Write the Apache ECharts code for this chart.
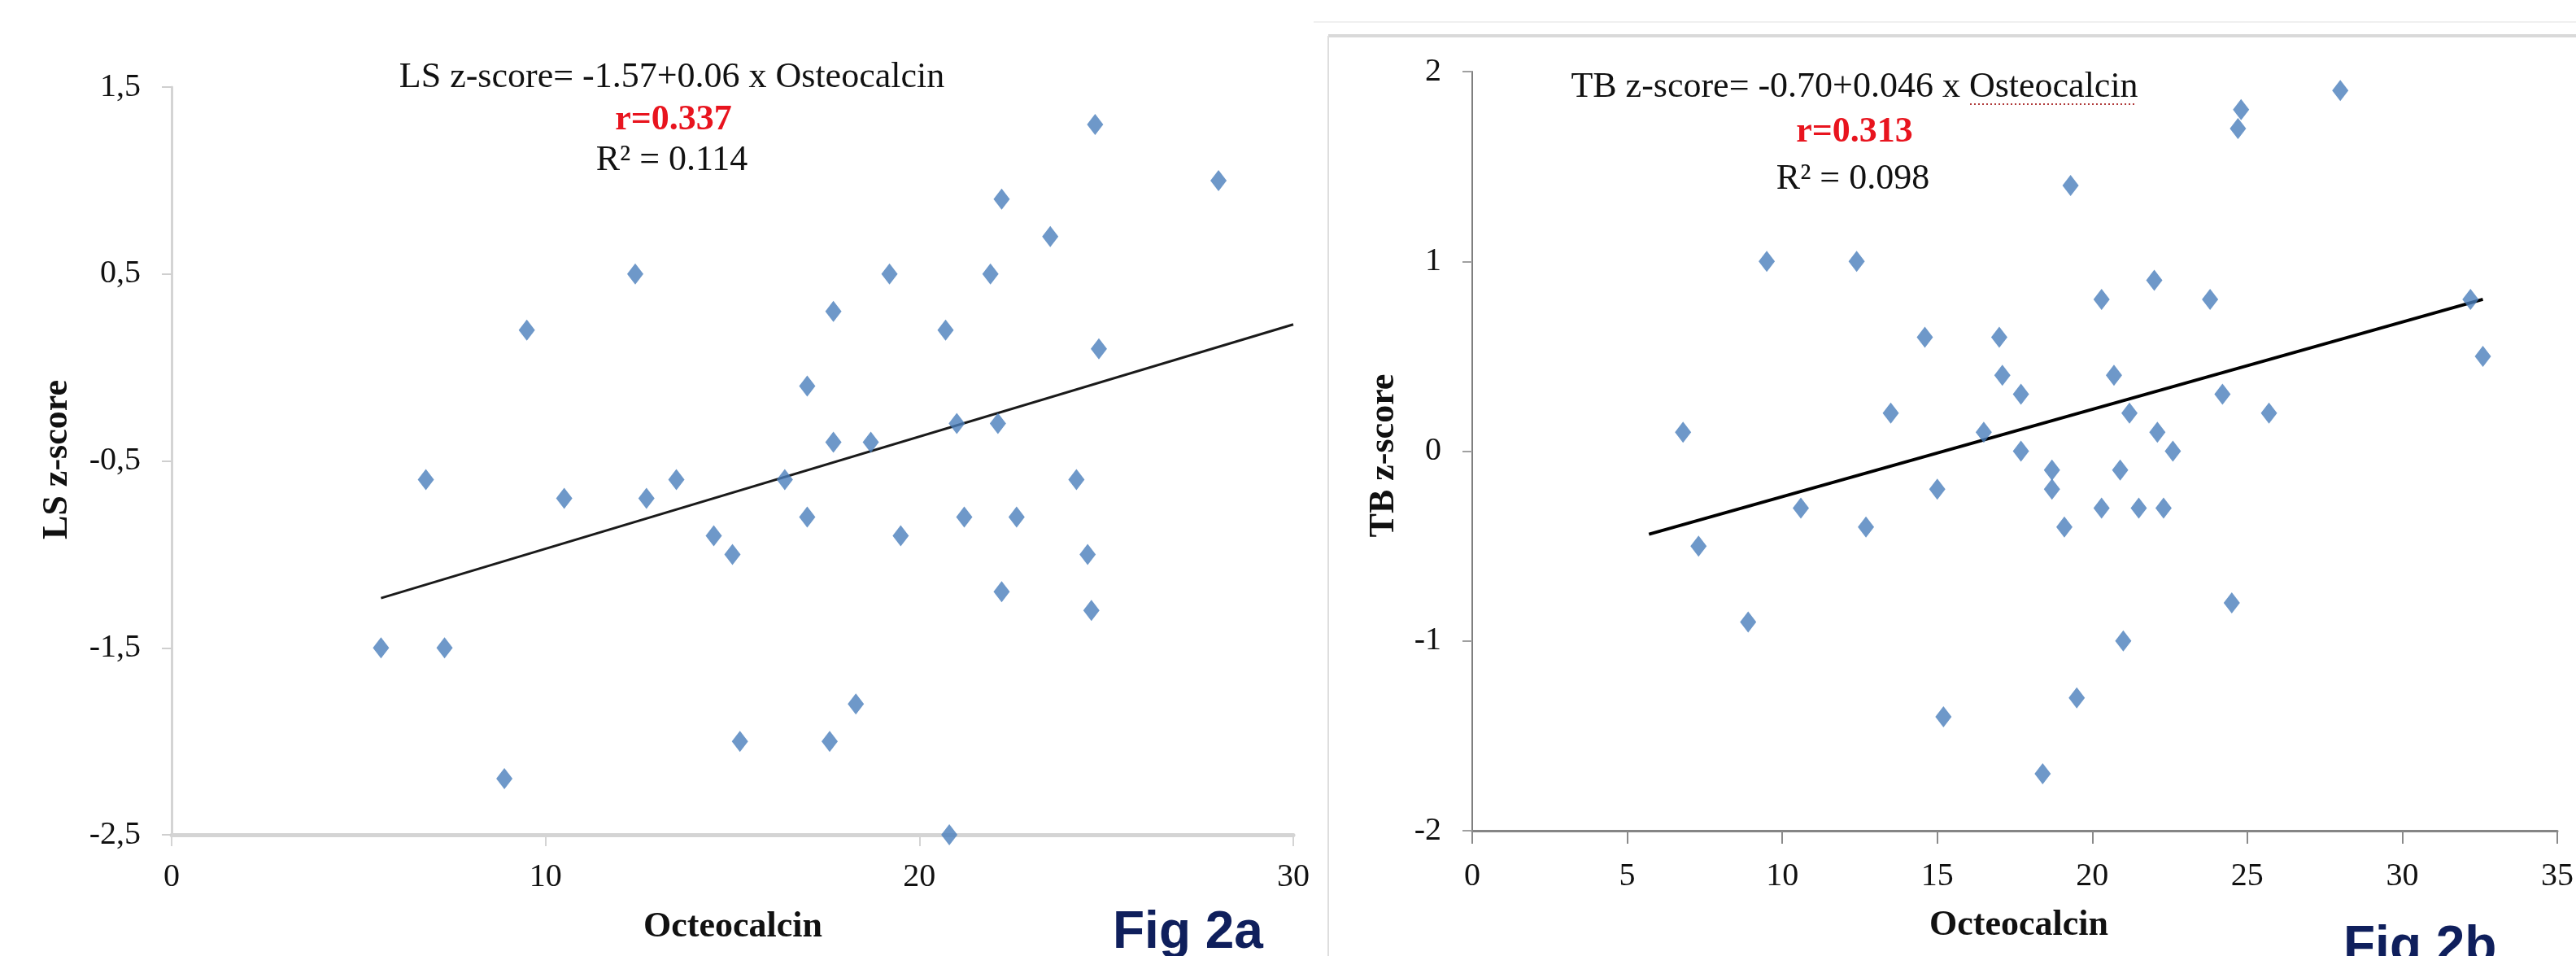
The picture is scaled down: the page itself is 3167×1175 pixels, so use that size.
<!DOCTYPE html>
<html>
<head>
<meta charset="utf-8">
<script src="https://cdn.jsdelivr.net/npm/echarts@6/dist/echarts.min.js"></script>
<style>
html,body{margin:0;padding:0;background:#fff;}
#c{width:3167px;height:1175px;}
</style>
</head>
<body>
<div id="c"></div>
<script>
// ---- Fig 2a : LS z-score vs Osteocalcin ----
const lsOsteocalcin = [24.7, 28.0, 22.2, 23.5, 12.4, 19.2, 21.9, 17.7, 9.5, 20.7, 24.8, 17.0, 21.0, 22.1, 17.7, 18.7, 6.8, 13.5, 16.4, 24.2, 10.5, 12.7, 17.0, 21.2, 22.6, 14.5, 19.5, 15.0, 24.5, 22.2, 24.6, 5.6, 7.3, 18.3, 15.2, 17.6, 8.9, 20.8];
const lsZscore     = [1.3, 1.0, 0.9, 0.7, 0.5, 0.5, 0.5, 0.3, 0.2, 0.2, 0.1, -0.1, -0.3, -0.3, -0.4, -0.4, -0.6, -0.6, -0.6, -0.6, -0.7, -0.7, -0.8, -0.8, -0.8, -0.9, -0.9, -1.0, -1.0, -1.2, -1.3, -1.5, -1.5, -1.8, -2.0, -2.0, -2.2, -2.5];
const lsTrendX = [5.6, 30];
const lsTrendY = [-1.234, 0.23];
const lsYTicks = [-2.5, -1.5, -0.5, 0.5, 1.5];
const lsXTicks = [0, 10, 20, 30];

// ---- Fig 2b : TB z-score vs Osteocalcin ----
const tbOsteocalcin = [28.0, 24.8, 24.7, 19.3, 9.5, 12.4, 22.0, 20.3, 23.8, 32.2, 14.6, 17.0, 32.6, 17.1, 20.7, 17.7, 24.2, 13.5, 21.2, 25.7, 6.8, 16.5, 22.1, 17.7, 22.6, 18.7, 20.9, 15.0, 18.7, 10.6, 20.3, 21.5, 22.3, 12.7, 19.1, 7.3, 24.5, 8.9, 21.0, 19.5, 15.2, 18.4];
const tbZscore     = [1.9, 1.8, 1.7, 1.4, 1.0, 1.0, 0.9, 0.8, 0.8, 0.8, 0.6, 0.6, 0.5, 0.4, 0.4, 0.3, 0.3, 0.2, 0.2, 0.2, 0.1, 0.1, 0.1, 0.0, 0.0, -0.1, -0.1, -0.2, -0.2, -0.3, -0.3, -0.3, -0.3, -0.4, -0.4, -0.5, -0.8, -0.9, -1.0, -1.3, -1.4, -1.7];
const tbTrendX = [5.7, 32.6];
const tbTrendY = [-0.438, 0.80];
const tbYTicks = [-2, -1, 0, 1, 2];
const tbXTicks = [0, 5, 10, 15, 20, 25, 30, 35];

const zip = (a, b) => a.map((v, i) => [v, b[i]]);
const serif = '"Liberation Serif", "Times New Roman", serif';
const comma = v => String(v).replace('.', ',');

const chart = echarts.init(document.getElementById('c'), null, {renderer: 'canvas'});

const option = {
  backgroundColor: '#ffffff',
  animation: false,
  grid: [
    {left: 211, top: 107, width: 1379, height: 919, containLabel: false},
    {left: 1810, top: 88, width: 1345, height: 933, containLabel: false}
  ],
  xAxis: [
    {
      gridIndex: 0, type: 'value', min: lsXTicks[0], max: lsXTicks[lsXTicks.length - 1], interval: 10,
      axisLine: {onZero: false, lineStyle: {color: '#d4d4d4', width: 5}},
      axisTick: {show: true, length: 14, lineStyle: {color: '#d4d4d4', width: 2}},
      axisLabel: {margin: 32, fontFamily: serif, fontSize: 40, color: '#111'},
      splitLine: {show: false}
    },
    {
      gridIndex: 1, type: 'value', min: tbXTicks[0], max: tbXTicks[tbXTicks.length - 1], interval: 5,
      axisLine: {onZero: false, lineStyle: {color: '#858585', width: 3}},
      axisTick: {show: true, length: 16, lineStyle: {color: '#8a8a8a', width: 2}},
      axisLabel: {margin: 36, fontFamily: serif, fontSize: 40, color: '#111', showMaxLabel: true},
      splitLine: {show: false}
    }
  ],
  yAxis: [
    {
      gridIndex: 0, type: 'value', min: lsYTicks[0], max: lsYTicks[lsYTicks.length - 1],
      axisLine: {onZero: false, lineStyle: {color: '#d4d4d4', width: 3}},
      axisTick: {show: true, length: 12, customValues: lsYTicks, lineStyle: {color: '#cfcfcf', width: 2}},
      axisLabel: {margin: 38, fontFamily: serif, fontSize: 40, color: '#111', customValues: lsYTicks, formatter: comma},
      splitLine: {show: false}
    },
    {
      gridIndex: 1, type: 'value', min: tbYTicks[0], max: tbYTicks[tbYTicks.length - 1], interval: 1,
      axisLine: {onZero: false, lineStyle: {color: '#7f7f7f', width: 2}},
      axisTick: {show: true, length: 12, lineStyle: {color: '#a0a0a0', width: 2}},
      axisLabel: {margin: 38, fontFamily: serif, fontSize: 40, color: '#111'},
      splitLine: {show: false}
    }
  ],
  series: [
    {
      type: 'line', xAxisIndex: 0, yAxisIndex: 0, data: zip(lsTrendX, lsTrendY),
      symbol: 'none', lineStyle: {color: '#1a1a1a', width: 3}, z: 2
    },
    {
      type: 'scatter', xAxisIndex: 0, yAxisIndex: 0, data: zip(lsOsteocalcin, lsZscore),
      symbol: 'diamond', symbolSize: [20, 26], itemStyle: {color: '#4A7EBB'}, z: 3
    },
    {
      type: 'line', xAxisIndex: 1, yAxisIndex: 1, data: zip(tbTrendX, tbTrendY),
      symbol: 'none', lineStyle: {color: '#000000', width: 4}, z: 2
    },
    {
      type: 'scatter', xAxisIndex: 1, yAxisIndex: 1, data: zip(tbOsteocalcin, tbZscore),
      symbol: 'diamond', symbolSize: [20, 26], itemStyle: {color: '#4A7EBB'}, z: 3
    }
  ],
  graphic: [
    // frame of the second panel
    {type: 'line', shape: {x1: 1615, y1: 27, x2: 3167, y2: 27}, style: {stroke: '#f0f0f0', lineWidth: 2}, silent: true},
    {type: 'line', shape: {x1: 1633, y1: 44, x2: 3167, y2: 44}, style: {stroke: '#d9d9d9', lineWidth: 4}, silent: true},
    {type: 'line', shape: {x1: 1633, y1: 44, x2: 1633, y2: 1175}, style: {stroke: '#dedede', lineWidth: 2}, silent: true},

    // Fig 2a texts
    {type: 'text', x: 826, y: 95, style: {text: 'LS z-score= -1.57+0.06 x Osteocalcin', fontFamily: serif, fontSize: 44, fill: '#111', align: 'center', verticalAlign: 'middle'}},
    {type: 'text', x: 828, y: 148, style: {text: 'r=0.337', fontFamily: serif, fontSize: 44, fontWeight: 'bold', fill: '#E8141E', align: 'center', verticalAlign: 'middle'}},
    {type: 'text', x: 826, y: 197, style: {text: 'R² = 0.114', fontFamily: serif, fontSize: 44, fill: '#111', align: 'center', verticalAlign: 'middle'}},
    {type: 'text', x: 71, y: 565, rotation: Math.PI / 2, style: {text: 'LS z-score', fontFamily: serif, fontSize: 44, fontWeight: 'bold', fill: '#111', align: 'center', verticalAlign: 'middle'}},
    {type: 'text', x: 901, y: 1140, style: {text: 'Octeocalcin', fontFamily: serif, fontSize: 44, fontWeight: 'bold', fill: '#111', align: 'center', verticalAlign: 'middle'}},
    {type: 'text', x: 1368, y: 1147, style: {text: 'Fig 2a', fontFamily: '"Liberation Sans", Arial, sans-serif', fontSize: 64, fontWeight: 'bold', fill: '#0f1f5c', align: 'left', verticalAlign: 'middle'}},

    // Fig 2b texts
    {type: 'text', x: 2280, y: 107, style: {text: 'TB z-score= -0.70+0.046 x Osteocalcin', fontFamily: serif, fontSize: 44, fill: '#111', align: 'center', verticalAlign: 'middle'}},
    {type: 'line', shape: {x1: 2422, y1: 128, x2: 2626, y2: 128}, style: {stroke: '#b03a3a', lineWidth: 2, lineDash: [2, 3]}, silent: true},
    {type: 'text', x: 2280, y: 163, style: {text: 'r=0.313', fontFamily: serif, fontSize: 44, fontWeight: 'bold', fill: '#E8141E', align: 'center', verticalAlign: 'middle'}},
    {type: 'text', x: 2278, y: 220, style: {text: 'R² = 0.098', fontFamily: serif, fontSize: 44, fill: '#111', align: 'center', verticalAlign: 'middle'}},
    {type: 'text', x: 1702, y: 560, rotation: Math.PI / 2, style: {text: 'TB z-score', fontFamily: serif, fontSize: 44, fontWeight: 'bold', fill: '#111', align: 'center', verticalAlign: 'middle'}},
    {type: 'text', x: 2482, y: 1138, style: {text: 'Octeocalcin', fontFamily: serif, fontSize: 44, fontWeight: 'bold', fill: '#111', align: 'center', verticalAlign: 'middle'}},
    {type: 'text', x: 2881, y: 1165, style: {text: 'Fig 2b', fontFamily: '"Liberation Sans", Arial, sans-serif', fontSize: 64, fontWeight: 'bold', fill: '#0f1f5c', align: 'left', verticalAlign: 'middle'}}
  ]
};

chart.setOption(option);
</script>
</body>
</html>
